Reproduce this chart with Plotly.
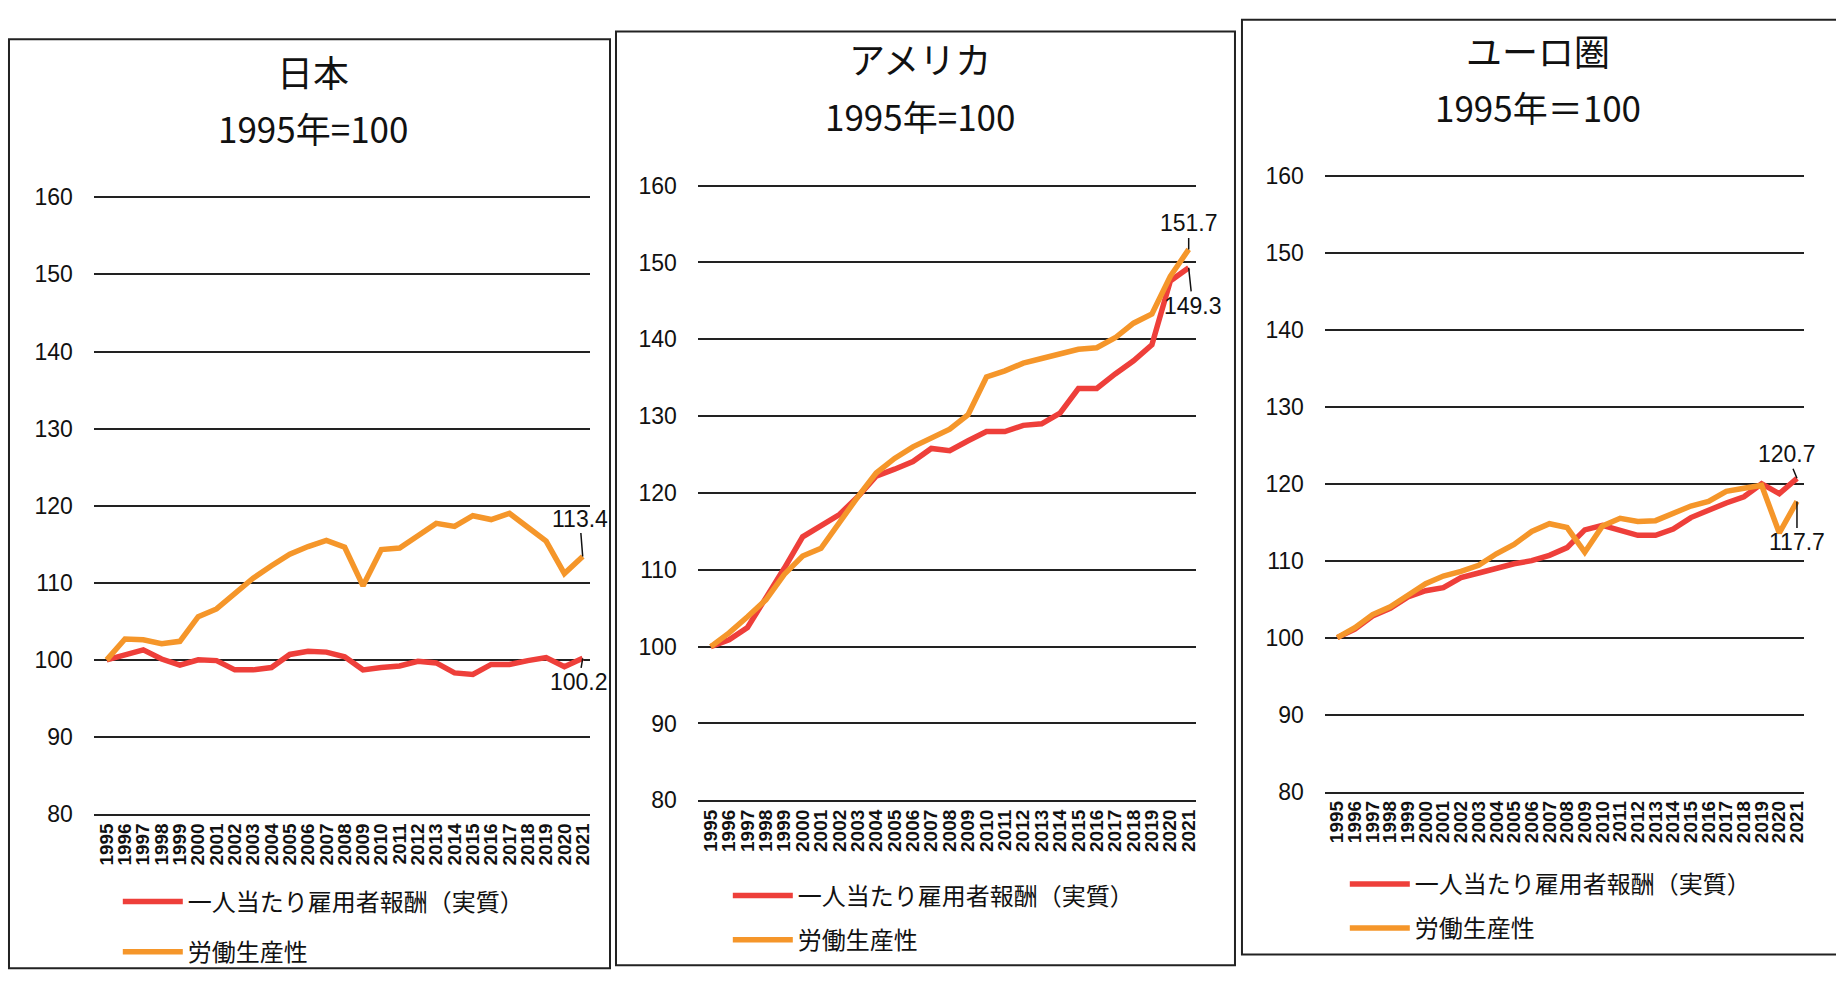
import plotly.graph_objects as go

years = list(range(1995, 2022))
year_labels = [str(y) for y in years]

panel_titles = ["日本", "アメリカ", "ユーロ圏"]
panel_subtitles = ["1995年=100", "1995年=100", "1995年＝100"]
series_names = ["一人当たり雇用者報酬（実質）", "労働生産性"]

jp_comp = [100, 100.7, 101.3, 100.1, 99.3, 100.0, 99.9, 98.7, 98.7, 99.0, 100.7, 101.1, 101.0, 100.4,
           98.7, 99.0, 99.2, 99.8, 99.6, 98.3, 98.1, 99.4, 99.4, 99.9, 100.3, 99.1, 100.2]
jp_prod = [100, 102.7, 102.6, 102.1, 102.4, 105.6, 106.6, 108.5, 110.6, 112.2, 113.7, 114.7, 115.5, 114.6,
           109.6, 114.3, 114.5, 116.1, 117.7, 117.3, 118.7, 118.2, 119.0, 117.2, 115.4, 111.2, 113.4]

us_comp = [100, 100.9, 102.5, 106.3, 110.2, 114.3, 115.8, 117.2, 119.5, 122.2, 123.1, 124.1, 125.8, 125.5,
           126.8, 128.0, 128.0, 128.8, 129.0, 130.4, 133.6, 133.6, 135.5, 137.2, 139.3, 147.6, 149.3]
us_prod = [100, 101.8, 103.9, 106.1, 109.4, 111.8, 112.8, 116.2, 119.5, 122.6, 124.5, 126.0, 127.2, 128.3,
           130.2, 135.1, 135.9, 136.9, 137.5, 138.1, 138.7, 138.9, 140.2, 142.1, 143.3, 148.2, 151.7]

ez_comp = [100, 101.1, 102.8, 103.8, 105.3, 106.1, 106.5, 107.8, 108.4, 109.0, 109.6, 110.0, 110.7, 111.7,
           114.0, 114.6, 114.0, 113.3, 113.3, 114.1, 115.6, 116.6, 117.5, 118.3, 120.0, 118.7, 120.7]
ez_prod = [100, 101.3, 103.0, 104.0, 105.5, 107.0, 108.0, 108.6, 109.4, 110.9, 112.1, 113.8, 114.8, 114.3,
           111.1, 114.5, 115.5, 115.1, 115.2, 116.1, 117.1, 117.7, 119.0, 119.4, 119.8, 113.6, 117.7]

comp_series = [jp_comp, us_comp, ez_comp]
prod_series = [jp_prod, us_prod, ez_prod]

W, H = 1836, 987
RED = "#EE3F3A"
ORANGE = "#F5962A"
CJK = "Noto Sans CJK JP"
NUM = "Liberation Sans"
YMAX = 160.3

# layout in pixels: (x0, x1, ytop(160), ybottom(80))
plots = [(94, 591, 191, 823), (699, 1198, 179, 809), (1327, 1807, 169, 800)]
boxes = [(9, 29, 611, 981), (617, 21, 1237, 978), (1244, 9, 1850, 967)]
title_pos = [(314, 62, 119), (922, 48, 107), (1541, 40, 98)]
legend_pos = [(118, 890), (729, 884), (1347, 872)]
legend_gaps = [16, 10, 10]

def px(x):
    return x / W

def py(y):
    return 1 - y / H

fig = go.Figure()
layout = {}
for i in range(3):
    s = "" if i == 0 else str(i + 1)
    lg = "legend" if i == 0 else "legend" + str(i + 1)
    fig.add_trace(go.Scatter(x=years, y=comp_series[i], mode="lines", name=series_names[0],
                             line=dict(color=RED, width=5.5), xaxis="x" + s, yaxis="y" + s,
                             legend=lg, legendgroup="a" + s))
    fig.add_trace(go.Scatter(x=years, y=prod_series[i], mode="lines", name=series_names[1],
                             line=dict(color=ORANGE, width=5.5), xaxis="x" + s, yaxis="y" + s,
                             legend=lg, legendgroup="b" + s))
    x0, x1, yt, yb = plots[i]
    ytop = yb - (yb - yt) * (YMAX - 80) / 80
    layout["xaxis" + s] = dict(domain=[px(x0), px(x1)], anchor="y" + s, range=[1994.3, 2021.4],
                               tickmode="array", tickvals=years, ticktext=year_labels, tickangle=-90,
                               tickfont=dict(size=19, family=NUM, color="#111", weight="bold"),
                               showgrid=False, zeroline=False, showline=True, linecolor="#222",
                               linewidth=1.5, ticks="", fixedrange=True)
    layout["yaxis" + s] = dict(domain=[py(yb), py(ytop)], anchor="x" + s, range=[80, YMAX], dtick=10,
                               tick0=80, showgrid=True, gridcolor="#222", gridwidth=1.5,
                               zeroline=False, showline=False, ticks="",
                               tickfont=dict(size=23, family=NUM, color="#111"),
                               ticklabelstandoff=20, fixedrange=True)
    lx, ly = legend_pos[i]
    layout[lg] = dict(x=px(lx), y=py(ly), xanchor="left", yanchor="top",
                      font=dict(size=24, family=CJK, color="#111"), bgcolor="rgba(0,0,0,0)",
                      tracegroupgap=legend_gaps[i], itemwidth=60, orientation="v")

annotations = []
for i in range(3):
    tx, ty1, ty2 = title_pos[i]
    annotations.append(dict(x=px(tx), y=py(ty1), xref="paper", yref="paper", text=panel_titles[i],
                            xanchor="center", yanchor="middle",
                            showarrow=False, font=dict(size=36, family=CJK, color="#111")))
    annotations.append(dict(x=px(tx), y=py(ty2), xref="paper", yref="paper", text=panel_subtitles[i],
                            xanchor="center", yanchor="middle",
                            showarrow=False, font=dict(size=35, family=CJK, color="#111")))

# end-point labels
end_labels = [
    ("x", "y", jp_prod[-1], -3, -38),
    ("x", "y", jp_comp[-1], -4, 24),
    ("x2", "y2", us_prod[-1], 0, -26),
    ("x2", "y2", us_comp[-1], 4, 38),
    ("x3", "y3", ez_comp[-1], -10, -24),
    ("x3", "y3", ez_prod[-1], 0, 41),
]
for xr, yr, v, ax, ay in end_labels:
    annotations.append(dict(x=years[-1], y=v, xref=xr, yref=yr, text=f"{v:.1f}", showarrow=True,
                            arrowhead=0, arrowwidth=1.5, arrowcolor="#111", ax=ax, ay=ay,
                            font=dict(size=23, family=NUM, color="#111")))

shapes = []
for (bx0, by0, bx1, by1) in boxes:
    shapes.append(dict(type="rect", xref="paper", yref="paper", x0=px(bx0), x1=px(bx1),
                       y0=py(by1), y1=py(by0), line=dict(color="#222", width=2)))

fig.update_layout(width=W, height=H, margin=dict(l=0, r=0, t=0, b=0),
                  paper_bgcolor="white", plot_bgcolor="white", showlegend=True,
                  annotations=annotations, shapes=shapes, **layout)

fig.write_html("out.html")
